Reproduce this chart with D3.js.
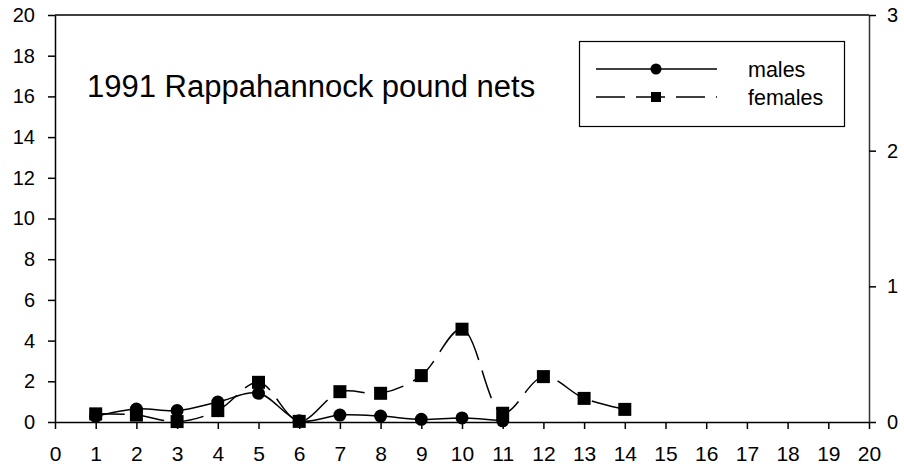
<!DOCTYPE html>
<html>
<head>
<meta charset="utf-8">
<script src="https://cdn.jsdelivr.net/npm/d3@7"></script>
<style>
  body { margin: 0; background: #fff; }
  svg { display: block; font-family: Arial, "Liberation Sans", sans-serif; }
</style>
</head>
<body>
<script>
// data (left-axis units)
const maleX = [1, 2, 3, 4, 5, 6, 7, 8, 9, 10, 11];
const maleY = [0.28, 0.64, 0.56, 0.98, 1.41, 0.06, 0.34, 0.29, 0.13, 0.2, 0.06];
const femaleX = [1, 2, 3, 4, 5, 6, 7, 8, 9, 10, 11, 12, 13, 14];
const femaleY = [0.4, 0.34, 0.02, 0.56, 1.95, 0.03, 1.49, 1.41, 2.28, 4.56, 0.43, 2.23, 1.16, 0.62];
const leftTicks = [0, 2, 4, 6, 8, 10, 12, 14, 16, 18, 20];
const rightTicks = [0, 1, 2, 3];
const xTicks = d3.range(0, 21);
const title = '1991 Rappahannock pound nets';
const seriesNames = ['males', 'females'];

const width = 904, height = 469;
const margin = { top: 15, right: 35, bottom: 47, left: 55 };

const svg = d3.select('body')
    .append('svg')
    .attr('width', width)
    .attr('height', height);

const x = d3.scaleLinear().domain([0, 20]).range([margin.left, width - margin.right]);
const y = d3.scaleLinear().domain([0, 20]).range([height - margin.bottom, margin.top]);
const y2 = d3.scaleLinear().domain([0, 3]).range([height - margin.bottom, margin.top]);

// top frame line
svg.append('line')
    .attr('x1', x(0)).attr('x2', x(20))
    .attr('y1', y(20)).attr('y2', y(20))
    .attr('stroke', '#000').attr('stroke-width', 1.5);

// axes
const gx = svg.append('g')
    .attr('transform', `translate(0,${y(0)})`)
    .call(d3.axisBottom(x).tickValues(xTicks).tickFormat(d3.format('d')).tickSize(7).tickPadding(17).tickSizeOuter(0));
const gy = svg.append('g')
    .attr('transform', `translate(${x(0)},0)`)
    .call(d3.axisLeft(y).tickValues(leftTicks).tickFormat(d3.format('d')).tickSize(7).tickPadding(13).tickSizeOuter(0));
const gy2 = svg.append('g')
    .attr('transform', `translate(${x(20)},0)`)
    .call(d3.axisRight(y2).tickValues(rightTicks).tickFormat(d3.format('d')).tickSize(7).tickPadding(11).tickSizeOuter(0));

[gx, gy, gy2].forEach(g => {
    g.selectAll('.domain').attr('stroke', '#000').attr('stroke-width', 1.5);
    g.selectAll('.tick line').attr('stroke', '#000').attr('stroke-width', 1.5);
    g.selectAll('.tick text').attr('fill', '#000').attr('font-family', 'Arial, "Liberation Sans", sans-serif');
});
gx.selectAll('.tick text').attr('font-size', 21);
gy.selectAll('.tick text').attr('font-size', 20);
gy2.selectAll('.tick text').attr('font-size', 20);
gy2.select('.domain').attr('stroke', '#333');

// title
svg.append('text')
    .attr('x', 87)
    .attr('y', 97)
    .attr('font-size', 31)
    .attr('fill', '#000')
    .text(title);

// lines
const curve = d3.curveCatmullRom.alpha(0.5);
const males = maleX.map((d, i) => [d, maleY[i]]);
const females = femaleX.map((d, i) => [d, femaleY[i]]);
const line = d3.line().x(d => x(d[0])).y(d => y(d[1])).curve(curve);

svg.append('path')
    .datum(females)
    .attr('d', line)
    .attr('fill', 'none')
    .attr('stroke', '#000')
    .attr('stroke-width', 1.5)
    .attr('stroke-dasharray', '29,11');

svg.append('path')
    .datum(males)
    .attr('d', line)
    .attr('fill', 'none')
    .attr('stroke', '#000')
    .attr('stroke-width', 1.5);

svg.selectAll('.male')
    .data(males)
    .enter()
    .append('circle')
    .attr('class', 'male')
    .attr('cx', d => x(d[0]))
    .attr('cy', d => y(d[1]))
    .attr('r', 6.5)
    .attr('fill', '#000');

svg.selectAll('.female')
    .data(females)
    .enter()
    .append('rect')
    .attr('class', 'female')
    .attr('x', d => x(d[0]) - 6.5)
    .attr('y', d => y(d[1]) - 6.5)
    .attr('width', 13)
    .attr('height', 13)
    .attr('fill', '#000');

// legend
const legend = svg.append('g');
legend.append('rect')
    .attr('x', 579.5).attr('y', 41.5)
    .attr('width', 265).attr('height', 85)
    .attr('fill', '#fff')
    .attr('stroke', '#000')
    .attr('stroke-width', 1.2);

legend.append('line')
    .attr('x1', 596).attr('x2', 717)
    .attr('y1', 69).attr('y2', 69)
    .attr('stroke', '#000').attr('stroke-width', 1.5);
legend.append('circle')
    .attr('cx', 656).attr('cy', 69).attr('r', 5.5).attr('fill', '#000');

legend.append('line')
    .attr('x1', 596).attr('x2', 717)
    .attr('y1', 97).attr('y2', 97)
    .attr('stroke', '#000').attr('stroke-width', 1.5)
    .attr('stroke-dasharray', '29,11');
legend.append('rect')
    .attr('x', 651).attr('y', 92).attr('width', 10).attr('height', 10).attr('fill', '#000');

legend.selectAll('.legend-label')
    .data(seriesNames)
    .enter()
    .append('text')
    .attr('class', 'legend-label')
    .attr('x', 748)
    .attr('y', (d, i) => 77 + i * 28)
    .attr('font-size', 21.5)
    .attr('fill', '#000')
    .text(d => d);
</script>
</body>
</html>
